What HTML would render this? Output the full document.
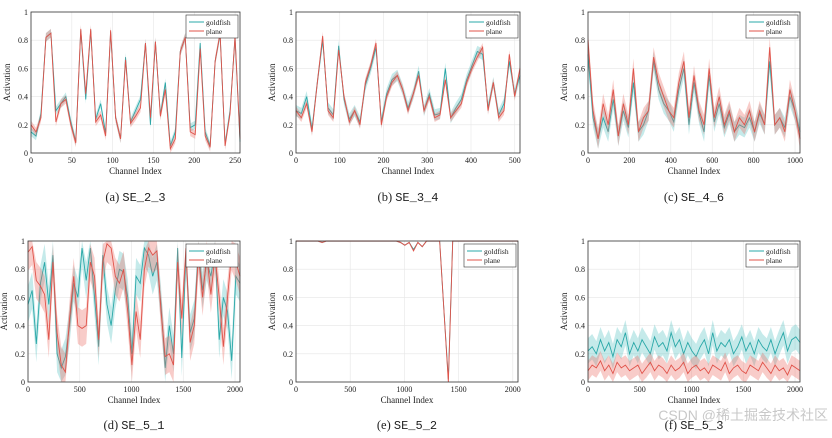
<!DOCTYPE html>
<html><head><meta charset="utf-8">
<style>
body{margin:0;background:#fff;width:832px;height:438px;overflow:hidden}
svg{display:block}
text{font-family:"Liberation Serif",serif;fill:#222}
.mono{font-family:"Liberation Mono",monospace}
</style></head>
<body>
<svg id="fig" width="832" height="438" xmlns="http://www.w3.org/2000/svg"></svg>
<script>
const aPlane=[0.2,0.15,0.25,0.82,0.85,0.22,0.35,0.38,0.2,0.07,0.88,0.42,0.88,0.22,0.27,0.12,0.87,0.25,0.1,0.66,0.21,0.26,0.32,0.78,0.25,0.79,0.26,0.45,0.03,0.1,0.72,0.82,0.15,0.13,0.74,0.12,0.04,0.65,0.85,0.05,0.28,0.83,0.1];
const aGold=[0.15,0.12,0.28,0.82,0.85,0.3,0.35,0.4,0.22,0.08,0.87,0.38,0.87,0.24,0.35,0.14,0.86,0.25,0.1,0.68,0.22,0.3,0.38,0.78,0.2,0.79,0.27,0.5,0.05,0.15,0.72,0.82,0.18,0.2,0.78,0.15,0.05,0.65,0.84,0.06,0.3,0.82,0.08];
const bPlane=[0.3,0.25,0.35,0.15,0.5,0.83,0.3,0.25,0.73,0.4,0.22,0.3,0.2,0.5,0.62,0.78,0.2,0.4,0.5,0.55,0.45,0.3,0.42,0.55,0.3,0.4,0.25,0.27,0.52,0.25,0.3,0.35,0.5,0.6,0.68,0.75,0.3,0.5,0.25,0.3,0.7,0.4,0.6];
const bGold=[0.3,0.28,0.4,0.17,0.5,0.8,0.32,0.27,0.76,0.38,0.24,0.3,0.22,0.48,0.6,0.75,0.22,0.42,0.52,0.55,0.45,0.32,0.42,0.58,0.3,0.42,0.27,0.28,0.6,0.25,0.32,0.38,0.52,0.62,0.72,0.7,0.32,0.5,0.27,0.35,0.65,0.42,0.55];
const cPlane=[0.8,0.3,0.1,0.35,0.2,0.45,0.12,0.35,0.2,0.6,0.15,0.25,0.3,0.68,0.5,0.4,0.3,0.25,0.5,0.65,0.25,0.55,0.3,0.2,0.6,0.25,0.4,0.2,0.3,0.15,0.25,0.2,0.3,0.15,0.3,0.2,0.75,0.2,0.25,0.15,0.45,0.3,0.1];
const cGold=[0.7,0.25,0.1,0.25,0.15,0.38,0.12,0.3,0.18,0.5,0.15,0.2,0.3,0.65,0.45,0.35,0.3,0.22,0.45,0.6,0.2,0.5,0.28,0.15,0.55,0.22,0.35,0.18,0.28,0.15,0.2,0.18,0.25,0.15,0.28,0.2,0.65,0.2,0.25,0.18,0.4,0.3,0.15];
const dPlane=[0.92,0.96,0.72,0.68,0.62,0.3,0.85,0.35,0.12,0.07,0.45,0.75,0.4,0.38,0.4,0.85,0.75,0.3,0.85,0.98,0.95,0.75,0.7,0.8,0.5,0.12,0.5,0.3,0.8,0.95,0.9,0.93,0.5,0.18,0.2,0.12,0.85,0.45,0.95,0.28,0.4,0.9,0.6,0.9,0.62,0.9,0.6,0.25,0.6,0.92,0.85,0.75];
const dGold=[0.55,0.65,0.27,0.7,0.85,0.55,0.9,0.2,0.1,0.18,0.4,0.7,0.6,0.95,0.72,0.95,0.6,0.25,0.9,0.55,0.4,0.65,0.8,0.78,0.6,0.2,0.75,0.7,0.95,0.9,0.75,0.85,0.55,0.1,0.4,0.2,0.95,0.17,0.9,0.35,0.45,0.95,0.65,0.85,0.75,0.95,0.3,0.6,0.5,0.15,0.75,0.7];
const ePlane=[1,1,1,1,1,1,0.99,1,1,1,1,1,1,1,1,1,1,1,1,1,1,1,1,1,0.99,0.97,0.99,0.93,0.99,0.96,1,1,1,1,0.5,0.0,1,1,1,1,1,1,1,1,1,1,1,1,1,1,1,1];
const eGold=[1,1,1,1,1,1,0.99,1,1,1,1,1,1,1,1,1,1,1,1,1,1,1,1,1,0.99,0.97,0.99,0.94,0.99,0.96,1,1,1,1,0.5,0.02,1,1,1,1,1,1,1,1,1,1,1,1,1,1,1,1];
const fGold=[0.22,0.25,0.2,0.3,0.22,0.28,0.18,0.3,0.25,0.35,0.2,0.28,0.22,0.3,0.25,0.2,0.32,0.25,0.28,0.22,0.35,0.25,0.3,0.2,0.28,0.22,0.18,0.25,0.3,0.2,0.35,0.22,0.28,0.25,0.3,0.2,0.25,0.32,0.22,0.28,0.2,0.3,0.25,0.22,0.3,0.2,0.28,0.35,0.22,0.3,0.32,0.28];
const fPlane=[0.08,0.12,0.1,0.15,0.08,0.12,0.06,0.14,0.1,0.12,0.08,0.1,0.12,0.06,0.1,0.14,0.08,0.12,0.1,0.06,0.12,0.08,0.1,0.14,0.06,0.1,0.12,0.08,0.1,0.06,0.12,0.1,0.08,0.14,0.06,0.1,0.12,0.08,0.06,0.12,0.1,0.08,0.14,0.1,0.06,0.12,0.08,0.1,0.05,0.12,0.1,0.08];
const captionsLetters=["(a)","(b)","(c)","(d)","(e)","(f)"];
const captionsNames=["SE_2_3","SE_3_4","SE_4_6","SE_5_1","SE_5_2","SE_5_3"];
const yTicks=[0,0.2,0.4,0.6,0.8,1];

const NS="http://www.w3.org/2000/svg";
const svg=document.getElementById('fig');
function mk(t,a,p){const e=document.createElementNS(NS,t);for(const k in a)e.setAttribute(k,a[k]);(p||svg).appendChild(e);return e;}
const panels=[
{l:31,r:240,t:12,b:153,xmax:256,xt:[0,50,100,150,200,250],g:aGold,p:aPlane,bg:0.03,bp:0.03},
{l:296,r:520,t:12,b:153,xmax:512,xt:[0,100,200,300,400,500],g:bGold,p:bPlane,bg:0.04,bp:0.03},
{l:588,r:800,t:12,b:153,xmax:1024,xt:[0,200,400,600,800,1000],g:cGold,p:cPlane,bg:0.07,bp:0.07},
{l:28,r:240,t:241,b:382,xmax:2048,xt:[0,500,1000,1500,2000],g:dGold,p:dPlane,bg:0.13,bp:0.13},
{l:296,r:518,t:241,b:382,xmax:2048,xt:[0,500,1000,1500,2000],g:eGold,p:ePlane,bg:0.005,bp:0.005},
{l:588,r:800,t:241,b:382,xmax:2048,xt:[0,500,1000,1500,2000],g:fGold,p:fPlane,bg:0.09,bp:0.07}];
panels.forEach((P,i)=>{
 const G=mk('g',{});  
 const xs=v=>P.l+(P.r-P.l)*v/P.xmax, ys=v=>P.b-(P.b-P.t)*Math.max(0,Math.min(1,v));
 mk('rect',{x:P.l,y:P.t,width:P.r-P.l,height:P.b-P.t,fill:'#fff'},G);
 yTicks.forEach(v=>{mk('line',{x1:P.l,x2:P.r,y1:ys(v),y2:ys(v),stroke:'#e6e6e6','stroke-width':0.6},G);
  const t=mk('text',{x:P.l-3,y:ys(v)+3,'font-size':8,'text-anchor':'end'},G);t.textContent=String(v);});
 P.xt.forEach(v=>{mk('line',{x1:xs(v),x2:xs(v),y1:P.t,y2:P.b,stroke:'#e6e6e6','stroke-width':0.6},G);
  const t=mk('text',{x:xs(v),y:P.b+10,'font-size':8,'text-anchor':'middle'},G);t.textContent=String(v);});
 const step=P.xmax/(P.g.length-1);
 [[P.g,P.bg,'#2aa8a8','rgba(64,185,185,0.3)','goldfish'],[P.p,P.bp,'#e0534a','rgba(235,110,100,0.35)','plane']].forEach(([d,w,c,f,nm])=>{
  let up=d.map((v,k)=>xs(k*step)+','+ys(v+w)), dn=d.map((v,k)=>xs(k*step)+','+ys(v-w)).reverse();
  const band=mk('polygon',{points:up.concat(dn).join(' '),fill:f},G);
   
  const ln=mk('polyline',{points:d.map((v,k)=>xs(k*step)+','+ys(v)).join(' '),fill:'none',stroke:c,'stroke-width':0.9},G);
   
 });
 mk('rect',{x:P.l,y:P.t,width:P.r-P.l,height:P.b-P.t,fill:'none',stroke:'#333','stroke-width':0.8},G);
 const lg=mk('g',{},G);  
 const lx=P.r-54,ly=P.t+3;
 mk('rect',{x:lx,y:ly,width:52,height:23,fill:'#fff',stroke:'#333','stroke-width':0.6},lg);
 mk('line',{x1:lx+3,x2:lx+18,y1:ly+7,y2:ly+7,stroke:'#2aa8a8','stroke-width':1},lg);
 mk('line',{x1:lx+3,x2:lx+18,y1:ly+16,y2:ly+16,stroke:'#e0534a','stroke-width':1},lg);
 let t=mk('text',{x:lx+20,y:ly+10,'font-size':7.5},lg);t.textContent='goldfish';
 t=mk('text',{x:lx+20,y:ly+19,'font-size':7.5},lg);t.textContent='plane';
 t=mk('text',{x:(P.l+P.r)/2,y:P.b+21,'font-size':9,'text-anchor':'middle'},G);t.textContent='Channel Index';
  
 const yc=(P.t+P.b)/2;
 t=mk('text',{x:P.l-21,y:yc,'font-size':9,'text-anchor':'middle',transform:`rotate(-90 ${P.l-21} ${yc})`},G);t.textContent='Activation';
  
 const cx=(P.l+P.r)/2, cy=(i<3?201:429);
 t=mk('text',{x:cx,y:cy,'font-size':12.5,'text-anchor':'middle'},G);
  
 const s1=mk('tspan',{},t);s1.textContent=captionsLetters[i]+' ';
 const s2=mk('tspan',{class:'mono','font-size':12},t);s2.textContent=captionsNames[i];
});
const wm=mk('text',{x:828,y:420,'font-size':14,'text-anchor':'end',fill:'#bbb',style:'font-family:"Liberation Sans","Noto Sans CJK SC",sans-serif;fill:#c8c8c8'});
wm.textContent='CSDN @稀土掘金技术社区';


</script>
</body></html>
